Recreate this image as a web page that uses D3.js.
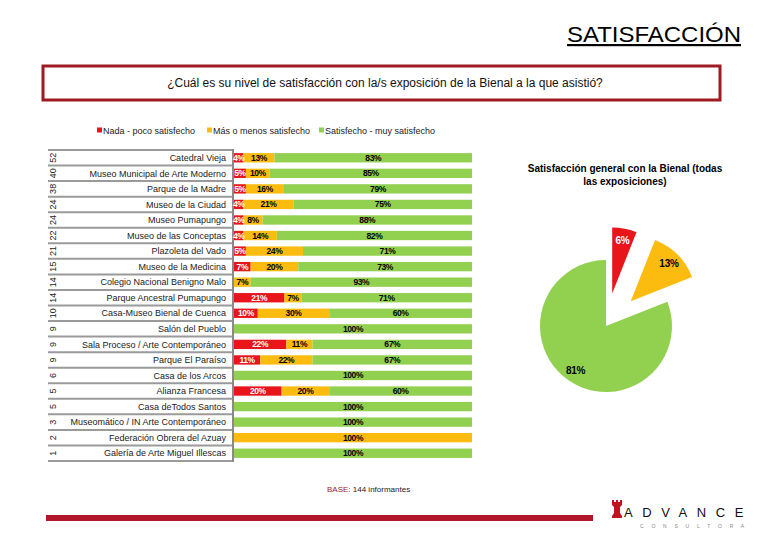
<!DOCTYPE html>
<html><head><meta charset="utf-8">
<script src="https://cdn.jsdelivr.net/npm/d3@7"></script>
<style>
body{margin:0;background:#fff;}
svg{display:block;font-family:Arial,"Liberation Sans",sans-serif;}
</style></head>
<body><svg id="c" width="766" height="540"></svg>
<script>
const categories = ["Catedral Vieja","Museo Municipal de Arte Moderno","Parque de la Madre","Museo de la Ciudad","Museo Pumapungo","Museo de las Conceptas","Plazoleta del Vado","Museo de la Medicina","Colegio Nacional Benigno Malo","Parque Ancestral Pumapungo","Casa-Museo Bienal de Cuenca","Salón del Pueblo","Sala Proceso / Arte Contemporáneo","Parque El Paraíso","Casa de los Arcos","Alianza Francesa","Casa deTodos Santos","Museomático / IN Arte Contemporáneo","Federación Obrera del Azuay","Galería de Arte Miguel Illescas"];
const counts = [52,40,38,24,24,22,21,15,14,14,10,9,9,9,6,5,5,3,2,1];
const nada = [4,5,5,4,4,4,5,7,0,21,10,0,22,11,0,20,0,0,0,0];
const masMenos = [13,10,16,21,8,14,24,20,7,7,30,0,11,22,0,20,0,0,100,0];
const satisfecho = [83,85,79,75,88,82,71,73,93,71,60,100,67,67,100,60,100,100,0,100];
const seriesNames = ["Nada - poco satisfecho","Más o menos satisfecho","Satisfecho - muy satisfecho"];
const colors = ["#e8151b","#fbbc0f","#92d050"];
const pieValues = [6,13,81];

const svg = d3.select("#c");

// Title
svg.append("text").attr("x",741).attr("y",42).attr("text-anchor","end")
  .attr("font-size",22).attr("text-decoration","underline").attr("fill","#000")
  .attr("textLength",174).attr("lengthAdjust","spacingAndGlyphs").text("SATISFACCIÓN");

// Question box
svg.append("rect").attr("x",43).attr("y",66).attr("width",677).attr("height",34)
  .attr("fill","#fff").attr("stroke","#9e1b22").attr("stroke-width",3);
svg.append("text").attr("x",385).attr("y",87).attr("text-anchor","middle")
  .attr("font-size",12).attr("fill","#111")
  .text("¿Cuál es su nivel de satisfacción con la/s exposición de la Bienal a la que asistió?");

// Legend
const legX = [97,207,319];
seriesNames.forEach((n,i)=>{
  svg.append("rect").attr("x",legX[i]).attr("y",127.5).attr("width",5).attr("height",5).attr("fill",colors[i]);
  svg.append("text").attr("x",legX[i]+6).attr("y",133.5).attr("font-size",9).attr("fill","#222").text(n);
});

// Data table
const rows = categories.map((c,i)=>({cat:c,count:counts[i],nada:nada[i],masMenos:masMenos[i],satisfecho:satisfecho[i]}));
const y = d3.scaleBand().domain(categories).range([150,461]).paddingInner(0.4).paddingOuter(0.2);
const x = d3.scaleLinear().domain([0,1]).range([234,472]);
const keys = ["nada","masMenos","satisfecho"];
const stack = d3.stack().keys(keys).offset(d3.stackOffsetExpand);
const stacked = stack(rows);

// grid lines of the table
const rowEdges = d3.range(categories.length+1).map(i=>150+i*y.step());
svg.append("g").selectAll("line").data(rowEdges).join("line")
  .attr("x1",48).attr("x2",233).attr("y1",d=>d).attr("y2",d=>d)
  .attr("stroke","#9a9a9a").attr("stroke-width",2);
svg.append("line").attr("x1",233).attr("x2",233).attr("y1",149).attr("y2",462)
  .attr("stroke","#8a8a8a").attr("stroke-width",2);

// row labels
svg.append("g").selectAll("text").data(rows).join("text")
  .attr("x",226).attr("y",d=>y(d.cat)+y.bandwidth()/2+3.2)
  .attr("text-anchor","end").attr("font-size",9).attr("fill","#222").text(d=>d.cat);
// counts rotated
svg.append("g").selectAll("text").data(rows).join("text")
  .attr("transform",d=>`translate(56,${y(d.cat)+y.bandwidth()/2}) rotate(-90)`)
  .attr("text-anchor","middle").attr("font-size",9).attr("fill","#222").text(d=>d.count);

// bars
const gBars = svg.append("g");
stacked.forEach((s,si)=>{
  gBars.append("g").attr("fill",colors[si]).selectAll("rect").data(s).join("rect")
    .attr("x",d=>x(d[0])).attr("width",d=>Math.max(0,x(d[1])-x(d[0])))
    .attr("y",d=>y(d.data.cat)).attr("height",y.bandwidth());
});
stacked.forEach((s,si)=>{
  gBars.append("g").selectAll("text").data(s.filter(d=>d.data[keys[si]]>0)).join("text")
    .attr("x",d=>(x(d[0])+x(d[1]))/2).attr("y",d=>y(d.data.cat)+y.bandwidth()/2+3)
    .attr("text-anchor","middle").attr("font-size",8.5).attr("font-weight","bold")
    .attr("letter-spacing",-0.4)
    .attr("fill",si===0?"#fff":"#000").text(d=>d.data[keys[si]]+"%");
});

// Pie
svg.append("text").attr("x",625).attr("y",172).attr("text-anchor","middle")
  .attr("font-size",10).attr("font-weight","bold").attr("fill","#000")
  .text("Satisfacción general con la Bienal (todas");
svg.append("text").attr("x",625).attr("y",185).attr("text-anchor","middle")
  .attr("font-size",10).attr("font-weight","bold").attr("fill","#000")
  .text("las exposiciones)");

const pie = d3.pie().sort(null)(pieValues);
const R = 66;
const arc = d3.arc().innerRadius(0).outerRadius(R);
const labelArc = d3.arc().innerRadius(54).outerRadius(54);
const explode = [33,35,0];
const gp = svg.append("g").attr("transform","translate(606,326)");
const slices = gp.selectAll("g").data(pie).join("g")
  .attr("transform",(d,i)=>{
    const a=(d.startAngle+d.endAngle)/2;
    return `translate(${Math.sin(a)*explode[i]},${-Math.cos(a)*explode[i]})`;
  });
slices.append("path").attr("d",arc).attr("fill",(d,i)=>colors[i]);
slices.append("text").attr("transform",d=>`translate(${labelArc.centroid(d)})`)
  .attr("text-anchor","middle").attr("dy","0.35em").attr("font-size",10)
  .attr("font-weight","bold").attr("letter-spacing",-0.3)
  .attr("fill",(d,i)=>i===0?"#fff":"#000").text(d=>d.data+"%");

// Base
const base = svg.append("text").attr("x",327).attr("y",492).attr("font-size",8).attr("fill","#222");
base.append("tspan").attr("fill","#9e1b22").text("BASE");
base.append("tspan").text(": 144 informantes");

// Footer
svg.append("rect").attr("x",46).attr("y",515).attr("width",547).attr("height",6).attr("fill","#b01729");
const logo = svg.append("g").attr("transform","translate(612,500)");
logo.append("path").attr("d","M0,0 H2 V2 H4 V0 H6 V2 H8 V0 H10 V5 L8,7 V13 L10,16 V18 H0 V16 L2,13 V7 L0,5 Z").attr("fill","#c0121f");
svg.append("text").attr("x",624).attr("y",517).attr("font-size",13).attr("letter-spacing",1.5)
  .attr("fill","#111").attr("textLength",121).attr("lengthAdjust","spacing").text("ADVANCE");
svg.append("text").attr("x",640).attr("y",528).attr("font-size",5).attr("letter-spacing",3.2)
  .attr("fill","#888").text("C O N S U L T O R A");
</script></body></html>
